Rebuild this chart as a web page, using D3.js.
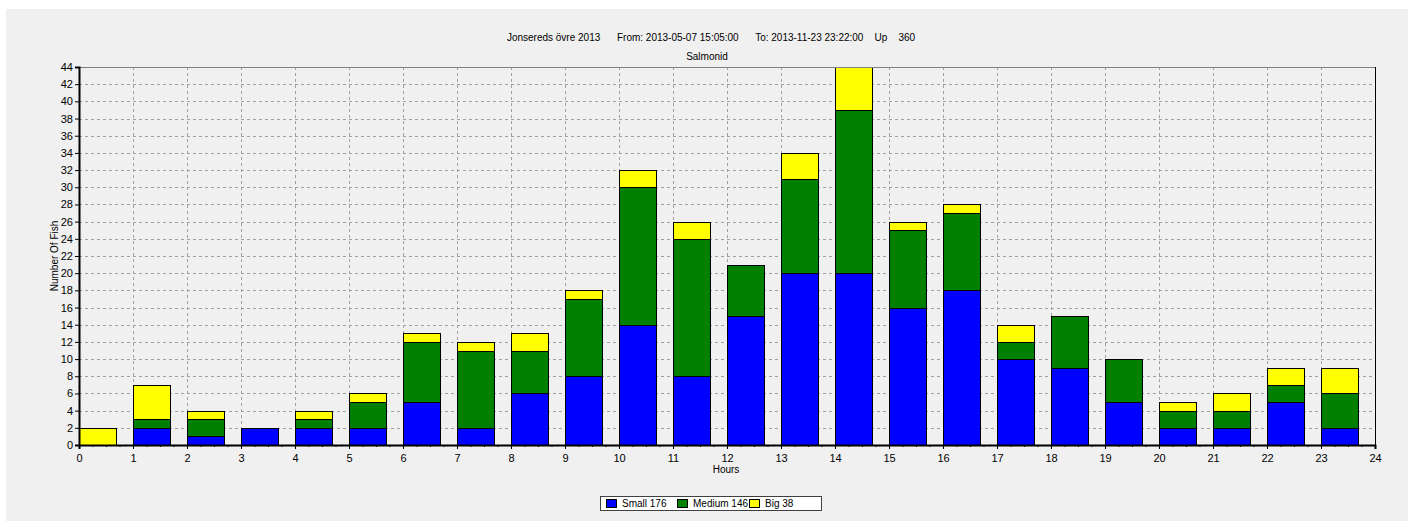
<!DOCTYPE html>
<html>
<head>
<meta charset="utf-8">
<script src="https://cdn.jsdelivr.net/npm/d3@7"></script>
<style>
  body { margin: 0; background: #ffffff; }
  text { font-family: "Liberation Sans", Arial, sans-serif; font-size: 11px; fill: #000; }
</style>
</head>
<body>
<div id="chart"></div>
<script>
// values
var hours = [0, 1, 2, 3, 4, 5, 6, 7, 8, 9, 10, 11, 12, 13, 14, 15, 16, 17, 18, 19, 20, 21, 22, 23];
var small = [0, 2, 1, 2, 2, 2, 5, 2, 6, 8, 14, 8, 15, 20, 20, 16, 18, 10, 9, 5, 2, 2, 5, 2];
var medium = [0, 1, 2, 0, 1, 3, 7, 9, 5, 9, 16, 16, 6, 11, 19, 9, 9, 2, 6, 5, 2, 2, 2, 4];
var big = [2, 4, 1, 0, 1, 1, 1, 1, 2, 1, 2, 2, 0, 3, 5, 1, 1, 2, 0, 0, 1, 2, 2, 3];
var seriesNames = ["Small", "Medium", "Big"];
var seriesColors = ["#0000ff", "#008000", "#ffff00"];
var xTicks = [0, 1, 2, 3, 4, 5, 6, 7, 8, 9, 10, 11, 12, 13, 14, 15, 16, 17, 18, 19, 20, 21, 22, 23, 24];
var yTicks = [0, 2, 4, 6, 8, 10, 12, 14, 16, 18, 20, 22, 24, 26, 28, 30, 32, 34, 36, 38, 40, 42, 44];
var titleText = "Jonsereds övre 2013      From: 2013-05-07 15:05:00      To: 2013-11-23 23:22:00    Up    360";
var subTitle = "Salmonid";

var W = 1414, H = 526;
var margin = { top: 67, right: 39, bottom: 81, left: 79 };
var width = W - margin.left - margin.right,
    height = H - margin.top - margin.bottom;

var svg = d3.select("#chart").append("svg")
    .attr("width", W)
    .attr("height", H);

// grey panel
svg.append("rect")
    .attr("x", 6).attr("y", 9)
    .attr("width", 1402).attr("height", 512)
    .attr("fill", "#f0f0f0");

svg.append("text")
    .attr("x", 711).attr("y", 41)
    .attr("text-anchor", "middle")
    .style("white-space", "pre")
    .style("font-size", "10px")
    .text(titleText);
svg.append("text")
    .attr("x", 707).attr("y", 60)
    .attr("text-anchor", "middle")
    .style("font-size", "10px")
    .text(subTitle);

var g = svg.append("g")
    .attr("transform", "translate(" + margin.left + "," + margin.top + ")");

var x = d3.scaleLinear().domain([0, 24]).range([0, width]);
var y = d3.scaleLinear().domain([0, 44]).range([height, 0]);

// grid
g.selectAll(".vgrid")
    .data(xTicks.slice(1, -1))
    .enter().append("line")
    .attr("x1", function (d) { return Math.round(x(d)) + 0.5; })
    .attr("x2", function (d) { return Math.round(x(d)) + 0.5; })
    .attr("y1", 0).attr("y2", height)
    .attr("stroke", "#a0a0a0")
    .attr("stroke-dasharray", "3,3");
g.selectAll(".hgrid")
    .data(yTicks.slice(1, -1))
    .enter().append("line")
    .attr("y1", function (d) { return Math.round(y(d)) + 0.5; })
    .attr("y2", function (d) { return Math.round(y(d)) + 0.5; })
    .attr("x1", 0).attr("x2", width)
    .attr("stroke", "#a0a0a0")
    .attr("stroke-dasharray", "3,3");

// stacked bars
var table = hours.map(function (h, i) {
    return { hour: h, Small: small[i], Medium: medium[i], Big: big[i] };
});
var stacked = d3.stack().keys(seriesNames)(table);
var barW = x(0.68) - x(0);

g.selectAll(".layer")
    .data(stacked)
    .enter().append("g")
    .attr("fill", function (d, i) { return seriesColors[i]; })
    .selectAll("rect")
    .data(function (d) { return d; })
    .enter().append("rect")
    .attr("x", function (d) { return Math.round(x(d.data.hour)) + 0.5; })
    .attr("y", function (d) { return Math.round(y(d[1])) + 0.5; })
    .attr("width", Math.round(barW))
    .attr("height", function (d) { return Math.round(y(d[0])) - Math.round(y(d[1])); })
    .attr("stroke", "#000")
    .attr("stroke-width", 1)
    .style("display", function (d) { return d[1] - d[0] > 0 ? null : "none"; });

// frame
g.append("line").attr("x1", 0).attr("x2", width).attr("y1", 0.5).attr("y2", 0.5)
    .attr("stroke", "#808080");
g.append("line").attr("x1", width + 0.5).attr("x2", width + 0.5).attr("y1", 0).attr("y2", height)
    .attr("stroke", "#000");

// axes
var xAxis = g.append("g")
    .attr("transform", "translate(0," + height + ")")
    .call(d3.axisBottom(x).tickValues(xTicks).tickFormat(d3.format("d")).tickSize(4).tickPadding(5));
var xMinor = g.append("g")
    .attr("transform", "translate(0," + height + ")")
    .call(d3.axisBottom(x).tickValues(d3.range(0, 24, 0.25).filter(function (d) { return d % 1 !== 0; }))
        .tickFormat("").tickSize(2));
xMinor.select(".domain").remove();

var yAxis = g.append("g")
    .call(d3.axisLeft(y).tickValues(yTicks).tickFormat(d3.format("d")).tickSize(4).tickPadding(2));

[xAxis, yAxis, xMinor].forEach(function (a) {
    a.selectAll("text").attr("font-size", null).attr("font-family", null).style("fill", "#000");
    a.selectAll("line").attr("stroke", "#000");
});
xAxis.select(".domain").attr("stroke", "#000").attr("stroke-width", 2);
yAxis.select(".domain").attr("stroke", "#000").attr("stroke-width", 2);

svg.append("text")
    .attr("x", 726).attr("y", 473)
    .attr("text-anchor", "middle")
    .style("font-size", "10px")
    .text("Hours");
svg.append("text")
    .attr("transform", "translate(58," + (margin.top + height / 2) + ") rotate(-90)")
    .attr("text-anchor", "middle")
    .style("font-size", "10px")
    .text("Number Of Fish");

// legend
var totals = [d3.sum(small), d3.sum(medium), d3.sum(big)];
var legend = svg.append("g").attr("transform", "translate(600,496)");
legend.append("rect")
    .attr("x", 0.5).attr("y", 0.5)
    .attr("width", 221).attr("height", 14)
    .attr("fill", "#fff")
    .attr("stroke", "#404040");
var legendX = [6, 77, 149];
var item = legend.selectAll(".item")
    .data(seriesNames)
    .enter().append("g")
    .attr("transform", function (d, i) { return "translate(" + legendX[i] + ",0)"; });
item.append("rect")
    .attr("x", 0.5).attr("y", 3.5)
    .attr("width", 10).attr("height", 8)
    .attr("fill", function (d, i) { return seriesColors[i]; })
    .attr("stroke", "#000");
item.append("text")
    .attr("x", 16).attr("y", 11)
    .style("white-space", "pre")
    .style("font-size", "10px")
    .text(function (d, i) { return d + " " + totals[i]; });
</script>
</body>
</html>
